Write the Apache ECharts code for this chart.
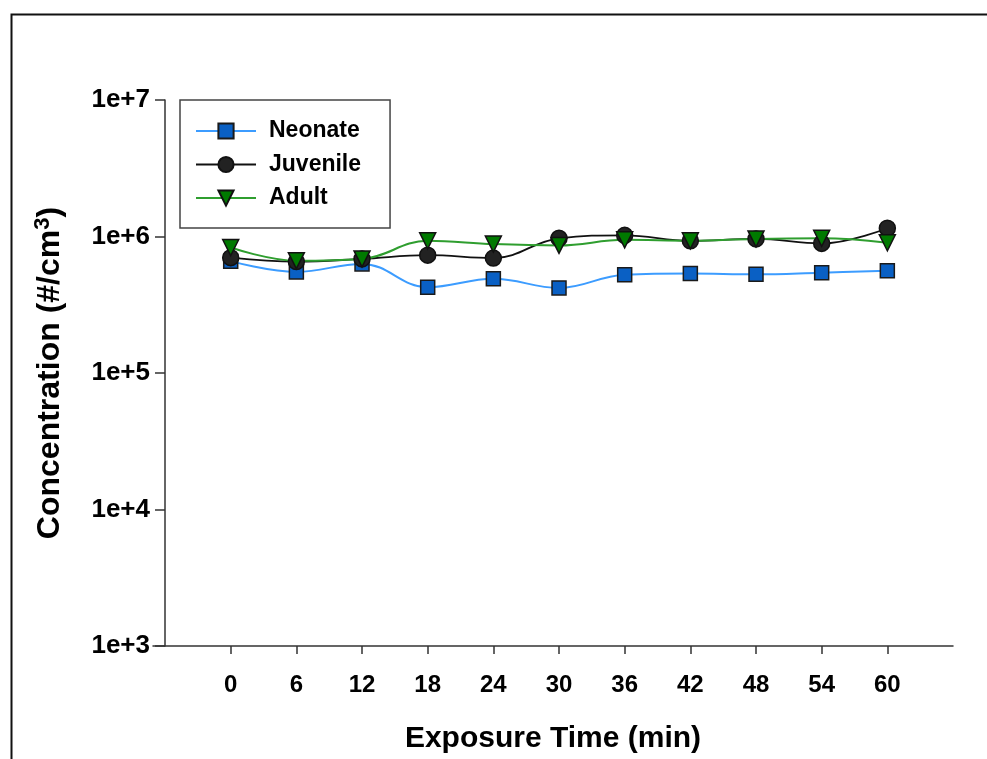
<!DOCTYPE html>
<html>
<head>
<meta charset="utf-8">
<script src="https://cdn.jsdelivr.net/npm/echarts@6/dist/echarts.min.js"></script>
<style>html,body{margin:0;padding:0;background:#fff;}#c{width:987px;height:759px;}</style>
</head>
<body>
<div id="c"></div>
<script>
const times = [0, 6, 12, 18, 24, 30, 36, 42, 48, 54, 60];
const neonate = [6.6e5, 5.5e5, 6.3e5, 4.25e5, 4.9e5, 4.2e5, 5.25e5, 5.35e5, 5.28e5, 5.43e5, 5.6e5];
const juvenile = [7.0e5, 6.55e5, 6.85e5, 7.3e5, 6.95e5, 9.7e5, 1.02e6, 9.3e5, 9.6e5, 8.9e5, 1.15e6];
const adult = [8.3e5, 6.65e5, 6.85e5, 9.3e5, 8.8e5, 8.6e5, 9.45e5, 9.3e5, 9.6e5, 9.7e5, 9.0e5];
const yTicks = [1e3, 1e4, 1e5, 1e6, 1e7];

const FONT = '"Liberation Sans", Arial, sans-serif';
const chart = echarts.init(document.getElementById('c'));
const pairs = arr => times.map((t, i) => [t, arr[i]]);

chart.setOption({
  backgroundColor: '#ffffff',
  animation: false,
  graphic: [{
    type: 'rect', left: 9, top: 12, shape: {width: 1000, height: 800},
    style: {fill: 'none', stroke: '#111', lineWidth: 2}, silent: true, z: -1
  }],
  grid: {left: 153, right: 34, top: 100, bottom: 108, containLabel: false},
  legend: {
    orient: 'vertical', left: 180, top: 100,
    padding: [19.5, 29, 18.5, 15],
    itemWidth: 60, itemHeight: 19, itemGap: 10.5,
    borderColor: '#444', borderWidth: 1.5,
    textStyle: {fontFamily: FONT, fontWeight: 'bold', fontSize: 23, color: '#000', padding: [0, 0, 0, 8]},
    data: ['Neonate', 'Juvenile', 'Adult']
  },
  xAxis: {
    type: 'value', min: -7.1, max: 66,
    name: 'Exposure Time (min)', nameLocation: 'middle', nameGap: 78,
    nameTextStyle: {fontFamily: FONT, fontWeight: 'bold', fontSize: 30, color: '#000'},
    axisLine: {show: true, onZero: false, lineStyle: {color: '#333', width: 1.5}},
    axisTick: {show: true, inside: false, length: 8, customValues: times, lineStyle: {color: '#333', width: 1.5}},
    axisLabel: {customValues: times, margin: 27, fontFamily: FONT, fontWeight: 'bold', fontSize: 24, color: '#000'},
    splitLine: {show: false}
  },
  yAxis: {
    type: 'log', logBase: 10, min: 1e3, max: 1e7, offset: -12,
    name: '{a|Concentration (#/cm}{s|3}{a|)}', nameLocation: 'middle', nameGap: 96, nameRotate: 90,
    nameTextStyle: {
      rich: {
        a: {fontFamily: FONT, fontWeight: 'bold', fontSize: 32, color: '#000'},
        s: {fontFamily: FONT, fontWeight: 'bold', fontSize: 22, color: '#000', padding: [0, 0, 15, 0]}
      }
    },
    axisLine: {show: true, onZero: false, lineStyle: {color: '#333', width: 1.5}},
    axisTick: {show: true, inside: false, length: 10, lineStyle: {color: '#333', width: 1.5}},
    axisLabel: {
      margin: 15, fontFamily: FONT, fontWeight: 'bold', fontSize: 26, color: '#000',
      formatter: v => '1e+' + Math.round(Math.log10(v))
    },
    splitLine: {show: false}
  },
  series: [
    {
      name: 'Neonate', type: 'line', data: pairs(neonate), smooth: 0.4,
      symbol: 'rect', symbolSize: 14,
      lineStyle: {color: '#3c9cff', width: 2},
      itemStyle: {color: '#0a60c4', borderColor: '#1a1a1a', borderWidth: 1.5}
    },
    {
      name: 'Juvenile', type: 'line', data: pairs(juvenile), smooth: 0.4,
      symbol: 'circle', symbolSize: 16,
      lineStyle: {color: '#111', width: 1.8},
      itemStyle: {color: '#222', borderColor: '#111', borderWidth: 1.5}
    },
    {
      name: 'Adult', type: 'line', data: pairs(adult), smooth: 0.4,
      symbol: 'triangle', symbolRotate: 180, symbolSize: 16,
      lineStyle: {color: '#2f9e2f', width: 2},
      itemStyle: {color: '#007a00', borderColor: '#111', borderWidth: 1.5}
    }
  ]
});
</script>
</body>
</html>
